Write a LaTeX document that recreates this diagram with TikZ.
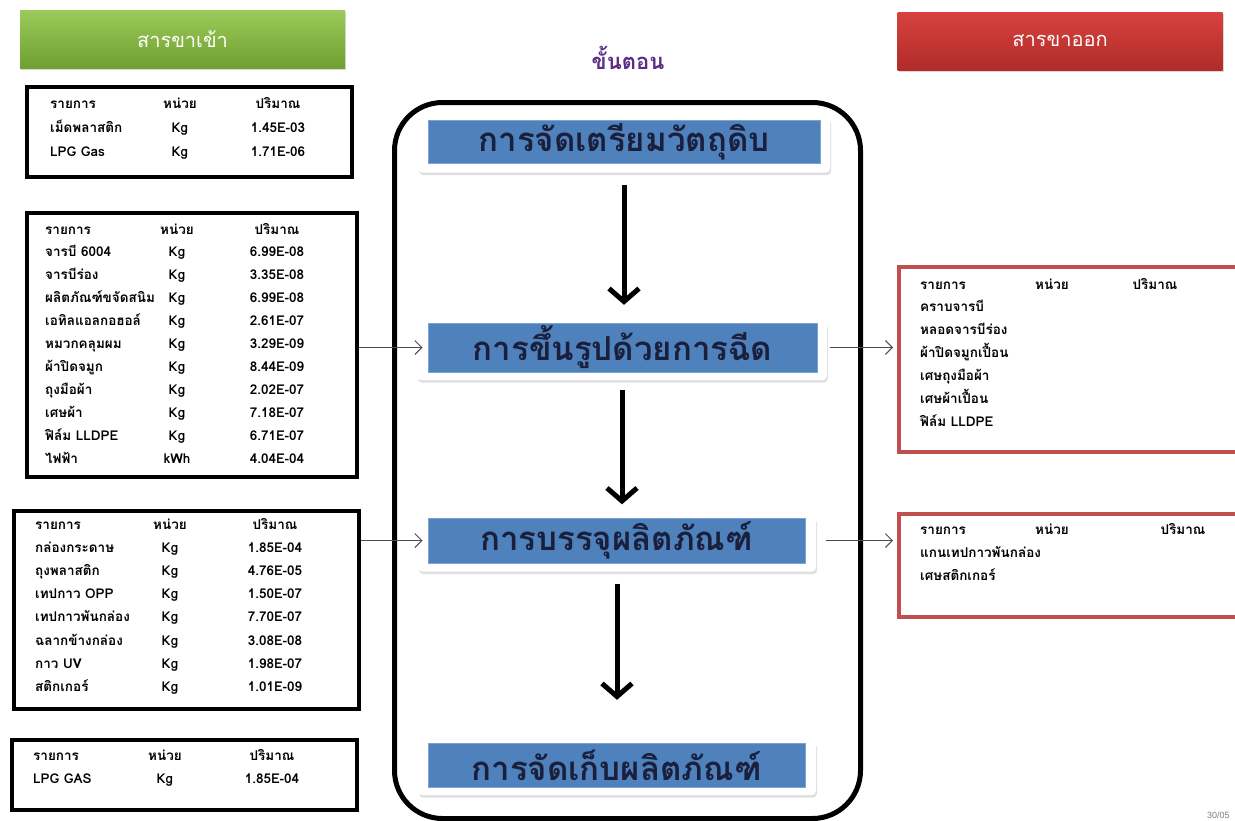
\documentclass[tikz,border=0pt]{standalone}
\usepackage{fontspec}
\setmainfont{Liberation Sans}
\newfontfamily\thai[Script=Thai]{Loma}
\usetikzlibrary{shadows,arrows.meta}
\definecolor{stepblue}{HTML}{4F81BD}
\definecolor{stepedge}{HTML}{7BA3D6}
\definecolor{outred}{HTML}{C0504D}
\definecolor{hdrgreenA}{HTML}{9CCB5B}
\definecolor{hdrgreenB}{HTML}{6F9F30}
\definecolor{hdrredA}{HTML}{D8423E}
\definecolor{hdrredB}{HTML}{B02B29}
\definecolor{steptext}{HTML}{1A1F3C}
\definecolor{purpletitle}{HTML}{5B2D86}
\tikzset{
 cell/.style={inner sep=0pt, font=\thai\bfseries\fontsize{13.5}{15}\selectfont},
 inbox/.style={draw=black, line width=4pt, anchor=north west, inner sep=0pt},
 outbox/.style={draw=outred, line width=3.5pt, anchor=north west, inner sep=0pt},
 hdr/.style={minimum width=325pt, minimum height=58pt, inner sep=0pt, text=white,
   font=\thai\fontsize{20}{22}\selectfont,
   drop shadow={opacity=0.3, shadow xshift=1pt, shadow yshift=-2pt}},
 stepframe/.style={fill=white, rounded corners=4pt, inner sep=0pt,
   drop shadow={opacity=0.25, shadow xshift=1pt, shadow yshift=-2.5pt}},
 stepbox/.style={fill=stepblue, draw=stepedge, line width=1pt, inner sep=0pt,
   text=steptext, font=\thai\bfseries\fontsize{33}{36}\selectfont},
 flow/.style={line width=5pt, -{Straight Barb[length=13pt, width=30pt]}},
 feed/.style={draw=black!70, line width=0.9pt, -{Straight Barb[length=7pt, width=14pt]}},
}
\newcommand{\tabrows}[7]{%
 \foreach \a/\b/\c [count=\i from 0] in {#7}{%
  \node[cell, anchor=base west] (#1-\i-a) at (#2, {#5+\i*#6}) {\a};
  \node[cell, anchor=base] (#1-\i-b) at (#3, {#5+\i*#6}) {\b};
  \node[cell, anchor=base] (#1-\i-c) at (#4, {#5+\i*#6}) {\c};
 }}
\begin{document}
\begin{tikzpicture}[x=1pt,y=-1pt]
\useasboundingbox (0,0) rectangle (1235,820);
\fill[white] (0,0) rectangle (1235,820);

% headers
\node[hdr, top color=hdrgreenA, bottom color=hdrgreenB] (hin) at (182.5,39) {สารขาเข้า};
\node[hdr, top color=hdrredA, bottom color=hdrredB] (hout) at (1060,41) {สารขาออก};
\node[font=\thai\bfseries\fontsize{22}{24}\selectfont, text=purpletitle] (title) at (628,58) {ขั้นตอน};

% process container
\node[draw, line width=5pt, rounded corners=48pt, minimum width=466pt, minimum height=716pt, anchor=north west] (proc) at (392,100) {};

% steps
\node[stepframe, minimum width=412pt, minimum height=55pt] (f1) at (624,145) {};
\node[stepbox, minimum width=392pt, minimum height=43pt] (s1) at (624,141.5) {การจัดเตรียมวัตถุดิบ};
\node[stepframe, minimum width=410pt, minimum height=58pt] (f2) at (622,351) {};
\node[stepbox, minimum width=389pt, minimum height=49pt] (s2) at (622.5,347.5) {การขึ้นรูปด้วยการฉีด};
\node[stepframe, minimum width=398pt, minimum height=55pt] (f3) at (617,544) {};
\node[stepbox, minimum width=377pt, minimum height=45pt] (s3) at (616.5,540.5) {การบรรจุผลิตภัณฑ์};
\node[stepframe, minimum width=398pt, minimum height=54pt] (f4) at (617,768) {};
\node[stepbox, minimum width=377pt, minimum height=44pt] (s4) at (616.5,765) {การจัดเก็บผลิตภัณฑ์};

\draw[flow, shorten <=12pt, shorten >=17pt] (f1.south) -- (f1.south |- f2.north);
\draw[flow, shorten <=10pt, shorten >=12pt] (f2.south) -- (f2.south |- f3.north);
\draw[flow, shorten <=12pt, shorten >=41pt] (f3.south) -- (f3.south |- f4.north);

% input boxes
\node[inbox, minimum width=325pt, minimum height=90pt] (in1) at (25,85) {};
\node[inbox, minimum width=330pt, minimum height=264pt] (in2) at (25,211) {};
\node[inbox, minimum width=345pt, minimum height=198pt] (in3) at (12,509) {};
\node[inbox, minimum width=345pt, minimum height=70pt] (in4) at (10,738) {};

% output boxes
\node[outbox, minimum width=345pt, minimum height=185pt] (out1) at (897,265) {};
\node[outbox, minimum width=345pt, minimum height=103pt] (out2) at (897,512) {};

% tables
\tabrows{in1}{50}{180}{278}{108}{24}{รายการ/หน่วย/ปริมาณ, เม็ดพลาสติก/Kg/1.45E-03, LPG Gas/Kg/1.71E-06}
\tabrows{in2}{45}{177}{277}{234}{22.9}{รายการ/หน่วย/ปริมาณ, จารบี 6004/Kg/6.99E-08, จารบีร่อง/Kg/3.35E-08, ผลิตภัณฑ์ขจัดสนิม/Kg/6.99E-08, เอทิลแอลกอฮอล์/Kg/2.61E-07, หมวกคลุมผม/Kg/3.29E-09, ผ้าปิดจมูก/Kg/8.44E-09, ถุงมือผ้า/Kg/2.02E-07, เศษผ้า/Kg/7.18E-07, ฟิล์ม LLDPE/Kg/6.71E-07, ไฟฟ้า/kWh/4.04E-04}
\tabrows{in3}{35}{170}{275}{529}{23.2}{รายการ/หน่วย/ปริมาณ, กล่องกระดาษ/Kg/1.85E-04, ถุงพลาสติก/Kg/4.76E-05, เทปกาว OPP/Kg/1.50E-07, เทปกาวพันกล่อง/Kg/7.70E-07, ฉลากข้างกล่อง/Kg/3.08E-08, กาว UV/Kg/1.98E-07, สติกเกอร์/Kg/1.01E-09}
\tabrows{in4}{33}{165}{272}{760}{23}{รายการ/หน่วย/ปริมาณ, LPG GAS/Kg/1.85E-04}
\tabrows{out1}{920}{1052}{1155}{289}{22.9}{รายการ/หน่วย/ปริมาณ, คราบจารบี//, หลอดจารบีร่อง//, ผ้าปิดจมูกเปื้อน//, เศษถุงมือผ้า//, เศษผ้าเปื้อน//, ฟิล์ม LLDPE//}
\tabrows{out2}{920}{1052}{1183}{534}{23}{รายการ/หน่วย/ปริมาณ, แกนเทปกาวพันกล่อง//, เศษสติกเกอร์//}

% feed arrows
\draw[feed, shorten >=5pt] (in2.east |- s2.west) -- (s2.west);
\draw[feed, shorten >=5pt] (in3.east |- s3.west) -- (s3.west);
\draw[feed, shorten <=12pt, shorten >=4pt] (s2.east) -- (s2.east -| out1.west);
\draw[feed, shorten <=20pt, shorten >=4pt] (s3.east) -- (s3.east -| out2.west);

% page number
\node[anchor=north west, inner sep=0pt, font=\fontsize{9}{10}\selectfont, text=black!50] (pg) at (1207,812) {30/05};
\end{tikzpicture}
\end{document}
